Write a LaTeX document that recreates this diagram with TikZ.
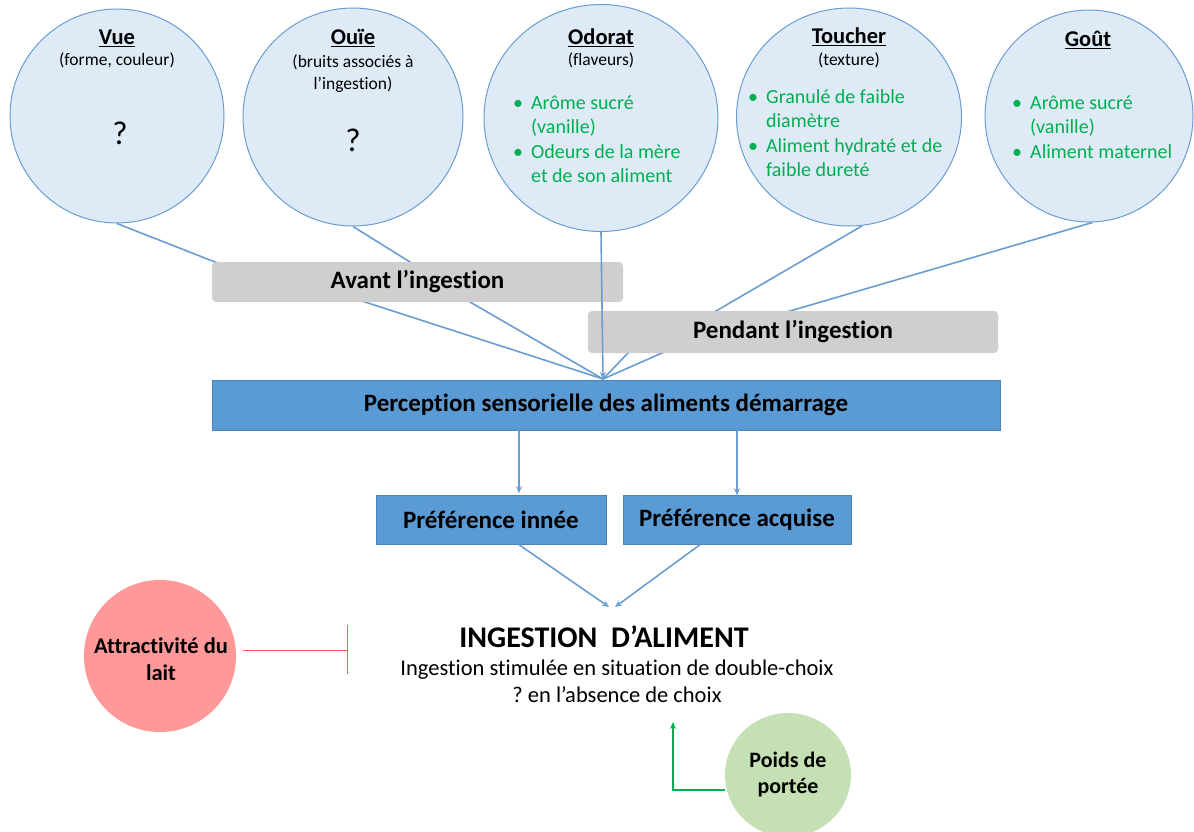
\documentclass[tikz,border=0pt]{standalone}
\usepackage{fontspec}
\setmainfont[Ligatures={TeX,NoCommon}]{Carlito}
\usetikzlibrary{shapes.geometric,arrows.meta}
\definecolor{cfill}{HTML}{DEEBF7}
\definecolor{cline}{HTML}{6C9DD2}
\definecolor{bluebox}{HTML}{5B9BD5}
\definecolor{graybox}{HTML}{D0CECE}
\definecolor{gtxt}{HTML}{00B050}
\definecolor{redc}{HTML}{FF9999}
\definecolor{greenc}{HTML}{C5E0B4}
\definecolor{redline}{HTML}{FF5B5B}
\definecolor{greenline}{HTML}{00B050}
\pgfdeclarelayer{bg}
\pgfsetlayers{bg,main}
\newcommand{\fs}[1]{\fontsize{#1}{#1}\selectfont}
\frenchspacing
\tikzset{
  sense/.style={ellipse, draw=cline, fill=cfill, line width=1pt, inner sep=0pt},
  head/.style={font=\fs{22.5}\bfseries, inner sep=0pt},
  sub/.style={font=\fs{17.5}, inner sep=0pt, align=center},
  qmark/.style={font=\fs{33}, inner sep=0pt},
  glist/.style={font=\fs{20}, text=gtxt, inner sep=0pt, anchor=north west},
  graytag/.style={rectangle, rounded corners=4pt, fill=graybox, font=\fs{25}\bfseries, inner sep=0pt},
  bluetag/.style={rectangle, fill=bluebox, draw=bluebox!85!black, line width=0.4pt, font=\fs{25}\bfseries, inner sep=0pt},
  conn/.style={draw=cline, line width=1.6pt},
  arr/.style={conn, -{Stealth[length=7pt,width=6pt]}},
  lbl/.style={font=\fs{22.5}, inner sep=0pt},
  sidetxt/.style={inner sep=0pt, align=center, font=\fontsize{22.5}{27}\selectfont\bfseries},
}
\newcommand{\gl}[1]{\begin{tabular}{@{}l@{\hspace{8pt}}l@{}}#1\end{tabular}}
\begin{document}
\begin{tikzpicture}[x=1pt,y=-1pt]
\useasboundingbox (0,0) rectangle (1194,832);
% sense circles
\node[sense, minimum width=214pt, minimum height=214pt] (vue) at (117,116) {};
\node[sense, minimum width=220pt, minimum height=218pt] (ouie) at (353,117) {};
\node[sense, minimum width=234pt, minimum height=227pt] (odorat) at (601,118) {};
\node[sense, minimum width=225pt, minimum height=218pt] (toucher) at (849,117) {};
\node[sense, minimum width=208pt, minimum height=212pt] (gout) at (1089,116) {};
% circle texts
\node[head] (vueh) at (117,38) {\underline{Vue}};
\node[sub] (vues) at (117,60) {(forme, couleur)};
\node[qmark] (vueq) at (120,133) {?};
\node[head] (ouieh) at (353,38) {\underline{Ouïe}};
\node[sub, font=\fontsize{17.5}{22}\selectfont] (ouies) at (353,74) {(bruits associés à\\l’ingestion)};
\node[qmark] (ouieq) at (353,140) {?};
\node[head] (odorath) at (601,38) {\underline{Odorat}};
\node[sub] (odorats) at (601,60) {(flaveurs)};
\node[glist] (odoratl) at (513,92) {\renewcommand{\arraystretch}{1.22}\gl{•&Arôme sucré\\&(vanille)\\•&Odeurs de la mère\\&et de son aliment}};
\node[glist] (toucherl) at (748,86) {\renewcommand{\arraystretch}{1.22}\gl{•&Granulé de faible\\&diamètre\\•&Aliment hydraté et de\\&faible dureté}};
\node[head] (toucherh) at (849,37) {\underline{Toucher}};
\node[sub] (touchers) at (849,60) {(texture)};
\node[head] (gouth) at (1088,40) {\underline{Goût}};
\node[glist] (goutl) at (1012,92) {\renewcommand{\arraystretch}{1.22}\gl{•&Arôme sucré\\&(vanille)\\•&Aliment maternel}};
% gray tags
\node[graytag, minimum width=411pt, minimum height=40pt] (avant) at (417.5,282) {Avant l’ingestion};
\node[graytag, minimum width=410pt, minimum height=42pt] (pendant) at (793,332) {Pendant l’ingestion};
% blue boxes
\node[bluetag, minimum width=788pt, minimum height=50pt] (perc) at (606,405) {Perception sensorielle des aliments démarrage};
\node[bluetag, minimum width=230pt, minimum height=49pt] (innee) at (491,520) {Préférence innée};
\node[bluetag, minimum width=228pt, minimum height=49pt] (acquise) at (737,520) {Préférence acquise};
\coordinate (conv) at (603,379);
% ingestion
\node[font=\fs{30}\bfseries, inner sep=0pt] (ing) at (604,637) {INGESTION\ \ D’ALIMENT};
\node[lbl] (ing1) at (617,670) {Ingestion stimulée en situation de double-choix};
\node[lbl] (ing2) at (617,695) {? en l’absence de choix};
\coordinate (ingtop) at (609,607);
% side circles
\node[ellipse, fill=redc, minimum width=152pt, minimum height=152pt, inner sep=0pt] (lait) at (160,656) {};
\node[sidetxt] (laitt) at (161,659) {Attractivité du\\lait};
\node[ellipse, fill=greenc, minimum width=126pt, minimum height=124pt, inner sep=0pt] (poids) at (788,775) {};
\node[sidetxt, font=\fontsize{22}{26}\selectfont\bfseries] (poidst) at (788,775) {Poids de\\portée};
\coordinate (inhib) at (347,650);
\coordinate (pup) at (673,722);
% connectors
\begin{pgfonlayer}{bg}
\draw[conn] (vue.south) -- (215,262) -- (365,302) -- (conv);
\draw[conn] (ouie.south) -- (410,262) -- (470,302) -- (conv);
\draw[conn] (toucher.-83) -- (716,311) -- (628,353) -- (conv);
\draw[conn] (gout.-88) -- (790,311) -- (662,353) -- (conv);
\end{pgfonlayer}
\draw[arr] (odorat.south) -- (conv);
\draw[arr] (perc.south -| innee.center) ++(28,0) -- ++(0,63);
\draw[arr] (perc.south -| acquise.center) -- (acquise.north);
\draw[arr] ([xshift=28pt]innee.south) -- (ingtop);
\draw[arr] ([xshift=-37pt]acquise.south) -- ([xshift=6pt]ingtop);
\draw[draw=redline, line width=1pt] (lait.east |- inhib) ++(7,0) -- (inhib);
\draw[draw=redline, line width=1pt] ([yshift=-24pt]inhib) -- ([yshift=25pt]inhib);
\draw[draw=greenline, line width=1.6pt, -{Stealth[length=7pt,width=6pt]}] (poids.west |- 0,790) -- (673,790) -- (pup);
\end{tikzpicture}
\end{document}
